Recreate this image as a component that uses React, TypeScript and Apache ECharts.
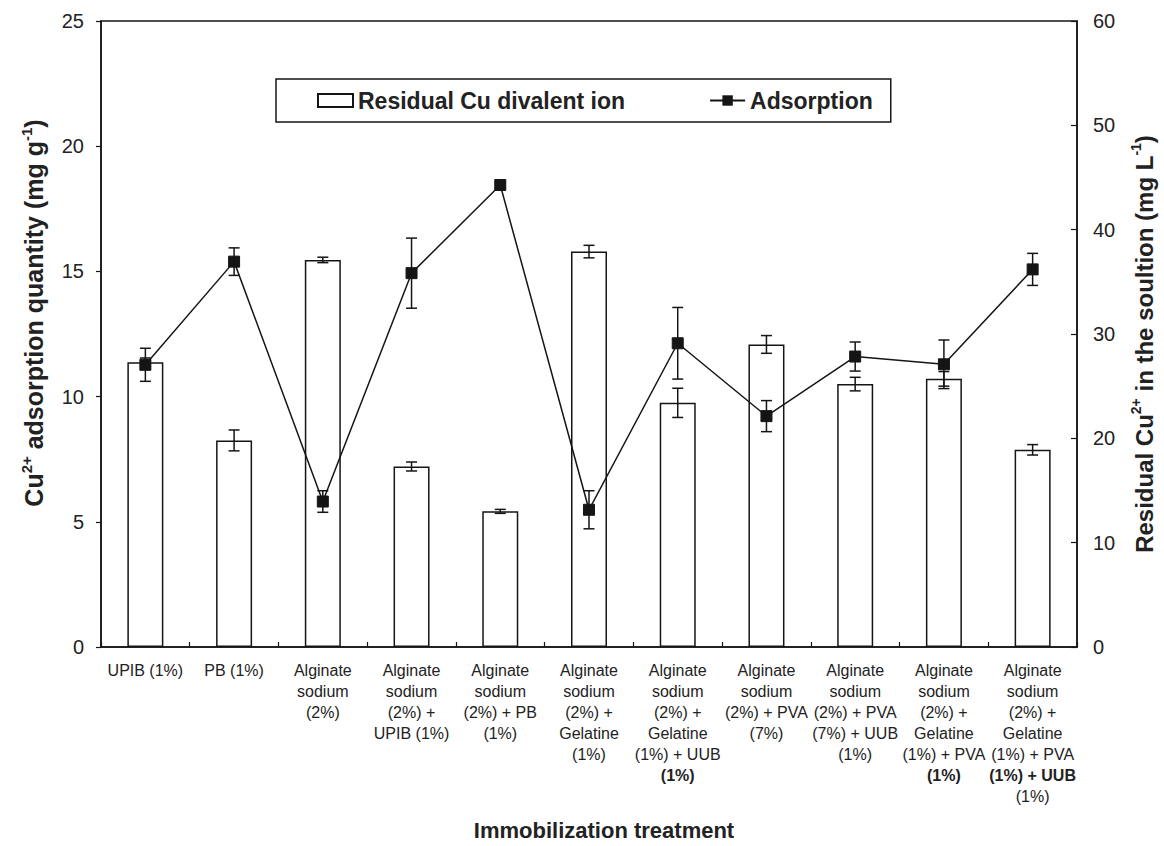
import { useEffect, useRef } from "react";
import * as echarts from "echarts";

// Immobilization treatments (x axis), one text line per row of the tick label
const categories: string[] = [
  "UPIB (1%)",
  "PB (1%)",
  "Alginate\nsodium\n(2%)",
  "Alginate\nsodium\n(2%) +\nUPIB (1%)",
  "Alginate\nsodium\n(2%) + PB\n(1%)",
  "Alginate\nsodium\n(2%) +\nGelatine\n(1%)",
  "Alginate\nsodium\n(2%) +\nGelatine\n(1%) + UUB\n(1%)",
  "Alginate\nsodium\n(2%) + PVA\n(7%)",
  "Alginate\nsodium\n(2%) + PVA\n(7%) + UUB\n(1%)",
  "Alginate\nsodium\n(2%) +\nGelatine\n(1%) + PVA\n(1%)",
  "Alginate\nsodium\n(2%) +\nGelatine\n(1%) + PVA\n(1%) + UUB\n(1%)",
];
// which line of each tick label is printed in bold (-1 = none)
const boldLine: number[] = [-1, -1, -1, -1, -1, -1, 5, -1, -1, 5, 5];

// residual Cu2+ in the solution (mg L-1), right axis
const residual: number[] = [27.3, 19.8, 37.1, 17.3, 13.0, 37.9, 23.4, 29.0, 25.2, 25.7, 18.9];
const residualErr: number[] = [0.4, 1.0, 0.26, 0.43, 0.19, 0.6, 1.4, 0.85, 0.65, 0.7, 0.5];

// Cu2+ adsorption quantity (mg g-1), left axis
const adsorption: number[] = [11.27, 15.39, 5.81, 14.93, 18.45, 5.48, 12.13, 9.22, 11.6, 11.29, 15.08];
const adsorptionErr: number[] = [0.66, 0.55, 0.43, 1.4, 0.1, 0.76, 1.43, 0.62, 0.58, 0.97, 0.64];

const leftAxisMax = 25;
const leftAxisStep = 5;
const rightAxisMax = 60;
const rightAxisStep = 10;

const FONT = 'Arial, "Liberation Sans", Helvetica, sans-serif';
const INK = "#151515";
const TEXT = "#222";

function errorBars(values: number[], errs: number[], z: number, yAxisIndex: number) {
  return {
    type: "custom",
    yAxisIndex,
    z,
    silent: true,
    data: values.map((v, i) => [i, v, errs[i]]),
    encode: { x: 0, y: 1 },
    renderItem: (_params: any, api: any) => {
      const i = api.value(0);
      const v = api.value(1);
      const e = api.value(2);
      const hi = api.coord([i, v + e]);
      const lo = api.coord([i, v - e]);
      const cap = 5.5;
      const style = { stroke: INK, lineWidth: 1.5 };
      return {
        type: "group",
        children: [
          { type: "line", shape: { x1: hi[0], y1: hi[1], x2: lo[0], y2: lo[1] }, style },
          { type: "line", shape: { x1: hi[0] - cap, y1: hi[1], x2: hi[0] + cap, y2: hi[1] }, style },
          { type: "line", shape: { x1: lo[0] - cap, y1: lo[1], x2: lo[0] + cap, y2: lo[1] }, style },
        ],
      };
    },
  };
}

// bold axis title with superscripts
function titleRich(size: number) {
  return {
    t: { fontSize: size, fontWeight: "bold", fontFamily: FONT, color: TEXT, lineHeight: 30 },
    s: { fontSize: Math.round(size * 0.6), fontWeight: "bold", fontFamily: FONT, color: TEXT, verticalAlign: "top", lineHeight: 30 },
  };
}

export default function App() {
  const ref = useRef<HTMLDivElement>(null);

  useEffect(() => {
    if (!ref.current) return;
    const chart = echarts.init(ref.current, undefined, { renderer: "svg" });

    const option: any = {
      animation: false,
      backgroundColor: "#ffffff",
      textStyle: { fontFamily: FONT, color: TEXT },
      grid: { left: 101, right: 84, top: 21, bottom: 197, show: true, borderColor: INK, borderWidth: 1.5, containLabel: false },
      legend: {
        left: 276,
        top: 79,
        orient: "horizontal",
        itemWidth: 35,
        itemHeight: 13,
        itemGap: 84,
        padding: [10, 18, 10, 41],
        borderColor: INK,
        borderWidth: 1.5,
        backgroundColor: "#fff",
        textStyle: { fontSize: 23, fontWeight: "bold", color: TEXT, fontFamily: FONT },
        data: [
          { name: "Residual Cu divalent ion", icon: "rect" },
          { name: "Adsorption" },
        ],
      },
      xAxis: {
        type: "category",
        data: categories,
        boundaryGap: true,
        axisLine: { show: true, lineStyle: { color: INK, width: 1.5 } },
        axisTick: { show: true, inside: true, length: 5, interval: 0, lineStyle: { color: INK, width: 1.2 } },
        axisLabel: {
          interval: 0,
          fontSize: 16,
          lineHeight: 21,
          color: TEXT,
          fontFamily: FONT,
          margin: 13,
          formatter: (value: string, idx: number) => {
            const lines = value.split("\n");
            return lines
              .map((ln, k) => (k === boldLine[idx] ? `{b|${ln}}` : ln))
              .join("\n");
          },
          rich: {
            b: { fontSize: 16, lineHeight: 21, fontWeight: "bold", color: TEXT, fontFamily: FONT },
          },
        },
        name: "Immobilization treatment",
        nameLocation: "middle",
        nameGap: 172,
        nameTextStyle: { fontSize: 22, fontWeight: "bold", color: TEXT, fontFamily: FONT, padding: [0, 0, 0, 30] },
      },
      yAxis: [
        {
          type: "value",
          position: "left",
          min: 0,
          max: leftAxisMax,
          interval: leftAxisStep,
          axisLine: { show: true, lineStyle: { color: INK, width: 1.5 } },
          axisTick: { show: true, inside: false, length: 5, lineStyle: { color: INK, width: 1.2 } },
          axisLabel: { fontSize: 20, color: TEXT, margin: 17, fontFamily: FONT },
          splitLine: { show: false },
          name: "{t|Cu}{s|2+}{t| adsorption quantity (mg g}{s|-1}{t|)}",
          nameLocation: "middle",
          nameRotate: 90,
          nameGap: 52,
          nameTextStyle: { rich: titleRich(25), padding: [0, 0, 0, 42] },
        },
        {
          type: "value",
          position: "right",
          min: 0,
          max: rightAxisMax,
          interval: rightAxisStep,
          axisLine: { show: true, lineStyle: { color: INK, width: 1.5 } },
          axisTick: { show: true, inside: true, length: 6, lineStyle: { color: INK, width: 1.2 } },
          axisLabel: { fontSize: 20, color: TEXT, margin: 16, fontFamily: FONT },
          splitLine: { show: false },
          name: "{t|Residual Cu}{s|2+}{t| in the soultion (mg L}{s|-1}{t|)}",
          nameLocation: "middle",
          nameRotate: 90,
          nameGap: 52,
          nameTextStyle: { rich: titleRich(24), padding: [0, 20, 0, 0] },
        },
      ],
      series: [
        {
          name: "Residual Cu divalent ion",
          type: "bar",
          yAxisIndex: 1,
          data: residual,
          barWidth: 36,
          z: 2,
          itemStyle: { color: "#ffffff", borderColor: INK, borderWidth: 1.5 },
        },
        errorBars(residual, residualErr, 3, 1),
        {
          name: "Adsorption",
          type: "line",
          yAxisIndex: 0,
          data: adsorption,
          symbol: "rect",
          symbolSize: 11,
          z: 4,
          itemStyle: { color: INK, borderColor: INK },
          lineStyle: { color: INK, width: 1.5 },
        },
        errorBars(adsorption, adsorptionErr, 5, 0),
      ],
    };

    chart.setOption(option);
    return () => chart.dispose();
  }, []);

  return (
    <div
      ref={ref}
      style={{ position: "fixed", left: 0, top: 0, width: 1164, height: 846, background: "#fff" }}
    />
  );
}
